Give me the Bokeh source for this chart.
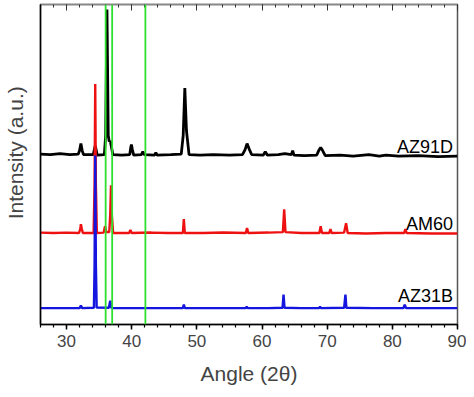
from bokeh.plotting import figure
from bokeh.models import (LinearAxis, SingleIntervalTicker, Span, Range1d, FixedTicker,
                          CustomLabelingPolicy)
from bokeh.embed import file_html
from bokeh.resources import INLINE
from bokeh.core.properties import value

# ---- data (angle 2theta, intensity in arbitrary units, already offset per sample) ----
az91d_angle = [26.0, 27.5, 29.0, 30.5, 31.8, 32.0, 32.2, 32.4, 32.6, 34.1, 34.3, 34.4, 34.5, 34.7,
               35.8, 36.0, 36.2, 36.4, 36.55, 36.7, 36.85, 37.1, 38.5, 39.7, 39.85, 39.95, 40.1, 40.3,
               41.5, 41.7, 41.9, 43.5, 43.7, 43.9, 46.0, 47.6, 47.9, 48.15, 48.4, 48.8, 50.5, 52.5,
               55.0, 57.0, 57.4, 57.7, 58.0, 58.4, 60.2, 60.5, 60.8, 62.5, 63.5, 64.5, 64.7, 64.9,
               66.5, 68.4, 68.7, 69.0, 69.3, 69.7, 72.0, 74.0, 76.4, 78.0, 79.0, 81.0, 84.0, 87.0, 90.0]
az91d_int = [171.5, 171, 172, 171, 171.5, 175, 182, 175, 171, 171, 177, 180, 177, 170.5,
             171, 190, 317, 190, 184, 185, 180, 171, 170.5, 171, 178, 181, 176, 170.5,
             171, 174, 171, 170.5, 173, 170.5, 171, 171.5, 190, 238, 195, 171, 170.5, 171,
             170.5, 171, 176, 182, 177, 171, 170.5, 174, 170.5, 171, 172, 171, 175, 170.5,
             170, 170.5, 175, 178, 175, 170, 170.5, 169.5, 171, 169.5, 170.5, 169.5, 170, 169, 169.5]

am60_angle = [26.0, 28.0, 30.0, 31.9, 32.1, 32.2, 32.35, 32.5, 34.15, 34.3, 34.4, 34.5, 34.65,
              35.7, 35.9, 36.1, 36.55, 36.7, 36.82, 36.95, 37.15, 39.6, 39.8, 40.0, 43.0, 45.5,
              47.85, 48.0, 48.15, 51.0, 54.0, 57.5, 57.7, 57.9, 61.0, 63.2, 63.4, 63.6, 66.0,
              68.8, 69.0, 69.2, 70.3, 70.5, 70.7, 72.6, 72.9, 73.15, 76.0, 79.0, 81.8, 82.0, 82.2,
              86.0, 90.0]
am60_int = [92.5, 92, 92.5, 92, 96, 101, 96, 92, 92, 140, 242, 140, 92,
            92.5, 99, 93, 93, 110, 140, 110, 92, 92, 95, 92, 92.5, 92,
            92, 106, 92, 92, 92.5, 92, 97, 92, 92.5, 93, 116, 93, 92,
            92, 99, 92, 92, 96, 92, 92.5, 102, 92, 91.5, 92, 92, 96, 92,
            91.5, 91.5]

az31b_angle = [26.0, 29.0, 32.0, 32.2, 32.4, 34.2, 34.3, 34.4, 34.5, 34.62, 36.5, 36.7, 36.9,
               40.0, 44.0, 47.85, 48.0, 48.15, 52.0, 57.5, 57.65, 57.8, 61.0, 63.15, 63.3, 63.45,
               66.0, 68.75, 68.9, 69.05, 72.6, 72.8, 72.95, 77.0, 81.7, 81.9, 82.1, 86.0, 90.0]
az31b_int = [16.5, 16.5, 16.5, 19, 16.5, 16.8, 60, 170, 60, 17, 16.8, 24, 16.5,
             16.5, 16.5, 16.5, 20, 16.5, 16.5, 16.5, 18, 16.5, 16.5, 16.8, 30, 16.8,
             16.5, 16.5, 18, 16.5, 16.8, 30, 16.8, 16.5, 16.5, 20, 16.5, 16.5, 16.5]

sample_names = ["AZ91D", "AM60", "AZ31B"]
reference_angles = [36.0, 37.0, 42.1]

FONT = "Liberation Sans"

p = figure(width=466, height=389, x_range=Range1d(26, 90), y_range=Range1d(0, 322),
           output_backend="svg", toolbar_location=None,
           min_border_left=39, min_border_right=9, min_border_top=0, min_border_bottom=65)
p.grid.visible = False
p.background_fill_color = "white"
p.border_fill_color = "white"
p.outline_line_color = "#555555"
p.outline_line_width = 1.5

# x axis
xa = p.xaxis[0]
xa.ticker = SingleIntervalTicker(interval=10, num_minor_ticks=5)
xa.axis_label = "Angle (2θ)"
xa.axis_label_text_font = FONT
xa.axis_label_text_font_size = "21px"
xa.axis_label_text_font_style = "normal"
xa.axis_label_standoff = 12
xa.major_label_text_font = FONT
xa.major_label_text_font_size = "17px"
xa.major_label_standoff = 5
xa.major_tick_in = 0
xa.major_tick_out = 5
xa.minor_tick_in = 0
xa.minor_tick_out = 3
xa.axis_line_width = 1.5
xa.major_tick_line_width = 1.5
xa.minor_tick_line_width = 1.2

# y axis
ya = p.yaxis[0]
ya.ticker = FixedTicker(ticks=[])
ya.axis_label = "\u00a0\u00a0\u00a0\u00a0Intensity (a.u.)"
ya.axis_label_text_font = FONT
ya.axis_label_text_font_size = "21px"
ya.axis_label_text_font_style = "normal"
ya.axis_label_standoff = 14
ya.axis_line_width = 1.5

# top axis: ticks only, no labels
no_labels = CustomLabelingPolicy(code="for (const i of indices) { indices.unset(i) } return indices")
top = LinearAxis(ticker=SingleIntervalTicker(interval=10, num_minor_ticks=5),
                 major_label_policy=no_labels, major_label_standoff=0,
                 major_label_text_font_size="1px",
                 major_tick_in=6, major_tick_out=0, minor_tick_in=3, minor_tick_out=0,
                 axis_line_color="#888888", major_tick_line_color="#333333",
                 minor_tick_line_color="#333333", axis_line_width=1.5)
p.add_layout(top, "above")

for a in reference_angles:
    p.add_layout(Span(location=a, dimension="height", line_color="#2ee02e", line_width=1.8))

p.line(az91d_angle, az91d_int, line_color="black", line_width=2.8)
p.line(am60_angle, am60_int, line_color="#ee1111", line_width=2.4)
p.line(az31b_angle, az31b_int, line_color="#1515e0", line_width=2.4)

p.text(x=[89.3, 89.3, 89.3], y=[179, 101, 29], text=sample_names,
       text_font=value(FONT), text_font_size="18px", text_align="right",
       text_baseline="alphabetic", text_color="black")

open("out.html", "w").write(file_html(p, INLINE))
